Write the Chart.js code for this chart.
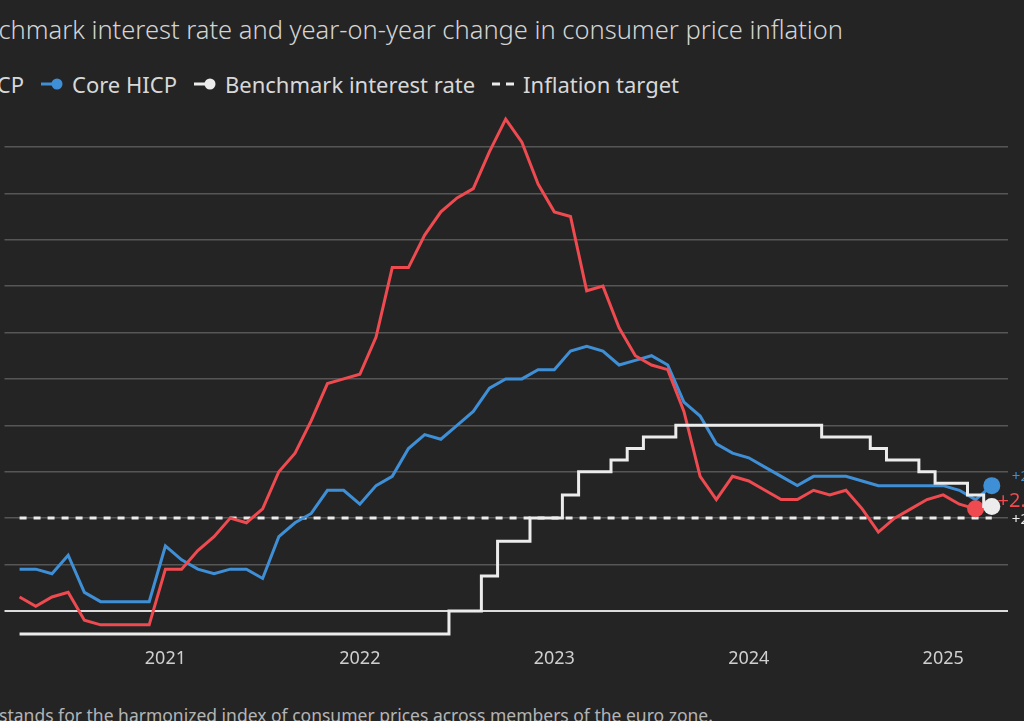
<!DOCTYPE html>
<html>
<head>
<meta charset="utf-8">
<script src="https://cdn.jsdelivr.net/npm/chart.js@4.4.0/dist/chart.umd.min.js"></script>
<style>
  html, body { margin: 0; padding: 0; background: #242424; overflow: hidden; width: 1024px; height: 721px; }
  body { position: relative; font-family: "Noto Sans", sans-serif; color: #ddd; }
  #title { position: absolute; left: -47px; top: 12px; font-size: 25.5px; color: #d4d4d4; white-space: nowrap; font-weight: 300; }
  #legend { position: absolute; left: -58px; top: 69px; font-size: 22px; color: #d8d8d8; white-space: nowrap; display: flex; align-items: center; }
  .item { display: flex; align-items: center; margin-right: 17px; }
  .item svg { margin-right: 9px; }
  #myChart { position: absolute; left: -4px; top: 92px; }
  #note { position: absolute; left: -46px; top: 703px; font-size: 17.5px; color: #b4b4b4; white-space: nowrap; }
</style>
</head>
<body>
<div id="title">Benchmark interest rate and year-on-year change in consumer price inflation</div>
<div id="legend"></div>
<canvas id="myChart" width="1028" height="580"></canvas>
<div id="note">HICP stands for the harmonized index of consumer prices across members of the euro zone.</div>

<script>
// monthly series, April 2020 .. April 2025
var startYear = 2020, startMonth = 4;

var hicp = [
  0.3, 0.1, 0.3, 0.4, -0.2, -0.3, -0.3, -0.3, -0.3,
  0.9, 0.9, 1.3, 1.6, 2.0, 1.9, 2.2, 3.0, 3.4, 4.1, 4.9, 5.0,
  5.1, 5.9, 7.4, 7.4, 8.1, 8.6, 8.9, 9.1, 9.9, 10.6, 10.1, 9.2,
  8.6, 8.5, 6.9, 7.0, 6.1, 5.5, 5.3, 5.2, 4.3, 2.9, 2.4, 2.9,
  2.8, 2.6, 2.4, 2.4, 2.6, 2.5, 2.6, 2.2, 1.7, 2.0, 2.2, 2.4,
  2.5, 2.3, 2.2, null
];

var coreHicp = [
  0.9, 0.9, 0.8, 1.2, 0.4, 0.2, 0.2, 0.2, 0.2,
  1.4, 1.1, 0.9, 0.8, 0.9, 0.9, 0.7, 1.6, 1.9, 2.1, 2.6, 2.6,
  2.3, 2.7, 2.9, 3.5, 3.8, 3.7, 4.0, 4.3, 4.8, 5.0, 5.0, 5.2,
  5.2, 5.6, 5.7, 5.6, 5.3, 5.4, 5.5, 5.3, 4.5, 4.2, 3.6, 3.4,
  3.3, 3.1, 2.9, 2.7, 2.9, 2.9, 2.9, 2.8, 2.7, 2.7, 2.7, 2.7,
  2.7, 2.6, 2.4, 2.7
];

var benchmarkRate = [
  -0.5, -0.5, -0.5, -0.5, -0.5, -0.5, -0.5, -0.5, -0.5,
  -0.5, -0.5, -0.5, -0.5, -0.5, -0.5, -0.5, -0.5, -0.5, -0.5, -0.5, -0.5,
  -0.5, -0.5, -0.5, -0.5, -0.5, -0.5, 0, 0, 0.75, 1.5, 1.5, 2.0,
  2.0, 2.5, 3.0, 3.0, 3.25, 3.5, 3.75, 3.75, 4.0, 4.0, 4.0, 4.0,
  4.0, 4.0, 4.0, 4.0, 4.0, 3.75, 3.75, 3.75, 3.5, 3.25, 3.25, 3.0,
  2.75, 2.75, 2.5, 2.25
];

var inflationTarget = 2;

var yearTicks = ["2021", "2022", "2023", "2024", "2025"];
var endLabels = ["+2.2%", "+2.7%", "+2.25%"];

// index of each january in the monthly arrays
var yearTickIdx = yearTicks.map(function (y) {
  return (Number(y) - startYear) * 12 + (1 - startMonth);
});

function toPoints(arr) {
  return arr.map(function (v, i) { return { x: i, y: v }; });
}

function lastIndex(arr) {
  var k = arr.length - 1;
  while (k > 0 && arr[k] === null) k--;
  return k;
}

var RED = "#ef4a50", BLUE = "#3f8fd6", WHITE = "#ececec";

// legend (html, first item runs off the left edge like the original)
var legendItems = [
  { text: "HICP", color: RED },
  { text: "Core HICP", color: BLUE },
  { text: "Benchmark interest rate", color: WHITE },
  { text: "Inflation target", color: WHITE, dashed: true }
];
legendItems.forEach(function (it) {
  var svg;
  if (it.dashed) {
    svg = "<svg width='22' height='12'><line x1='0' y1='6' x2='8' y2='6' stroke='" + it.color + "' stroke-width='3'/><line x1='14' y1='6' x2='22' y2='6' stroke='" + it.color + "' stroke-width='3'/></svg>";
  } else {
    svg = "<svg width='22' height='12'><line x1='0' y1='6' x2='14' y2='6' stroke='" + it.color + "' stroke-width='3'/><circle cx='16' cy='6' r='5.5' fill='" + it.color + "'/></svg>";
  }
  var el = document.createElement("span");
  el.className = "item";
  el.innerHTML = svg + "<span>" + it.text + "</span>";
  document.getElementById("legend").appendChild(el);
});

// draws the "+x.x%" labels next to the last point of each series
const endLabelPlugin = {
  id: "endLabels",
  afterDatasetsDraw(chart) {
    const c = chart.ctx;
    chart.data.datasets.forEach(function (ds, i) {
      if (!ds.endLabel) return;
      const meta = chart.getDatasetMeta(i);
      const pt = meta.data[ds.lastIdx];
      c.save();
      c.font = ds.endLabel.size + "px 'Noto Sans'";
      c.fillStyle = ds.borderColor;
      c.textBaseline = "middle";
      c.fillText(ds.endLabel.text, pt.x + ds.endLabel.dx, pt.y + ds.endLabel.dy);
      c.restore();
    });
  }
};

function endDot(arr, r) {
  var li = lastIndex(arr);
  return function (ctx) { return ctx.dataIndex === li ? r : 0; };
}

const ctx = document.getElementById("myChart");

var c = new Chart(ctx, {
  type: "line",
  data: {
    datasets: [
      {
        label: "Benchmark interest rate",
        data: toPoints(benchmarkRate),
        borderColor: WHITE,
        backgroundColor: WHITE,
        borderWidth: 3,
        stepped: "middle",
        pointRadius: endDot(benchmarkRate, 8.5),
        pointBorderWidth: 0,
        lastIdx: lastIndex(benchmarkRate),
        endLabel: { text: endLabels[2], size: 15, dx: 20, dy: 13 },
        order: 0
      },
      {
        label: "Core HICP",
        data: toPoints(coreHicp),
        borderColor: BLUE,
        backgroundColor: BLUE,
        borderWidth: 3,
        pointRadius: endDot(coreHicp, 8.5),
        pointBorderWidth: 0,
        lastIdx: lastIndex(coreHicp),
        endLabel: { text: endLabels[1], size: 15, dx: 20, dy: -9 },
        order: 2
      },
      {
        label: "HICP",
        data: toPoints(hicp),
        borderColor: RED,
        backgroundColor: RED,
        borderWidth: 3,
        pointRadius: endDot(hicp, 8.5),
        pointBorderWidth: 0,
        lastIdx: lastIndex(hicp),
        endLabel: { text: endLabels[0], size: 20, dx: 22, dy: -8 },
        order: 1
      },
      {
        label: "Inflation target",
        data: toPoints(benchmarkRate.map(function () { return inflationTarget; })),
        borderColor: WHITE,
        borderWidth: 3,
        borderDash: [7, 7],
        pointRadius: 0,
        order: 3
      }
    ]
  },
  options: {
    responsive: false,
    animation: false,
    layout: { padding: { left: 0, right: 16, top: 4, bottom: 5 } },
    plugins: { legend: { display: false }, tooltip: { enabled: false } },
    scales: {
      x: {
        type: "linear",
        min: -0.93,
        max: 61,
        grid: { display: false },
        border: { display: false },
        afterBuildTicks: function (scale) {
          scale.ticks = yearTickIdx.map(function (v) { return { value: v }; });
        },
        ticks: {
          autoSkip: false,
          maxRotation: 0,
          padding: -3,
          color: "#cfcfcf",
          font: { family: "Noto Sans", size: 18 },
          callback: function (v) { return yearTicks[yearTickIdx.indexOf(v)]; }
        }
      },
      y: {
        min: -0.7,
        max: 11,
        position: "right",
        border: { display: false },
        ticks: { display: false, stepSize: 1 },
        grid: {
          drawTicks: false,
          lineWidth: function (ctx) { return ctx.tick && ctx.tick.value === 0 ? 2 : 1.5; },
          color: function (ctx) {
            var v = ctx.tick ? ctx.tick.value : null;
            if (v === 0) return "#dcdcdc";
            if (v > 0 && v <= 10 && Number.isInteger(v)) return "#565656";
            return "rgba(0,0,0,0)";
          }
        }
      }
    }
  },
  plugins: [endLabelPlugin]
});
</script>
</body>
</html>
